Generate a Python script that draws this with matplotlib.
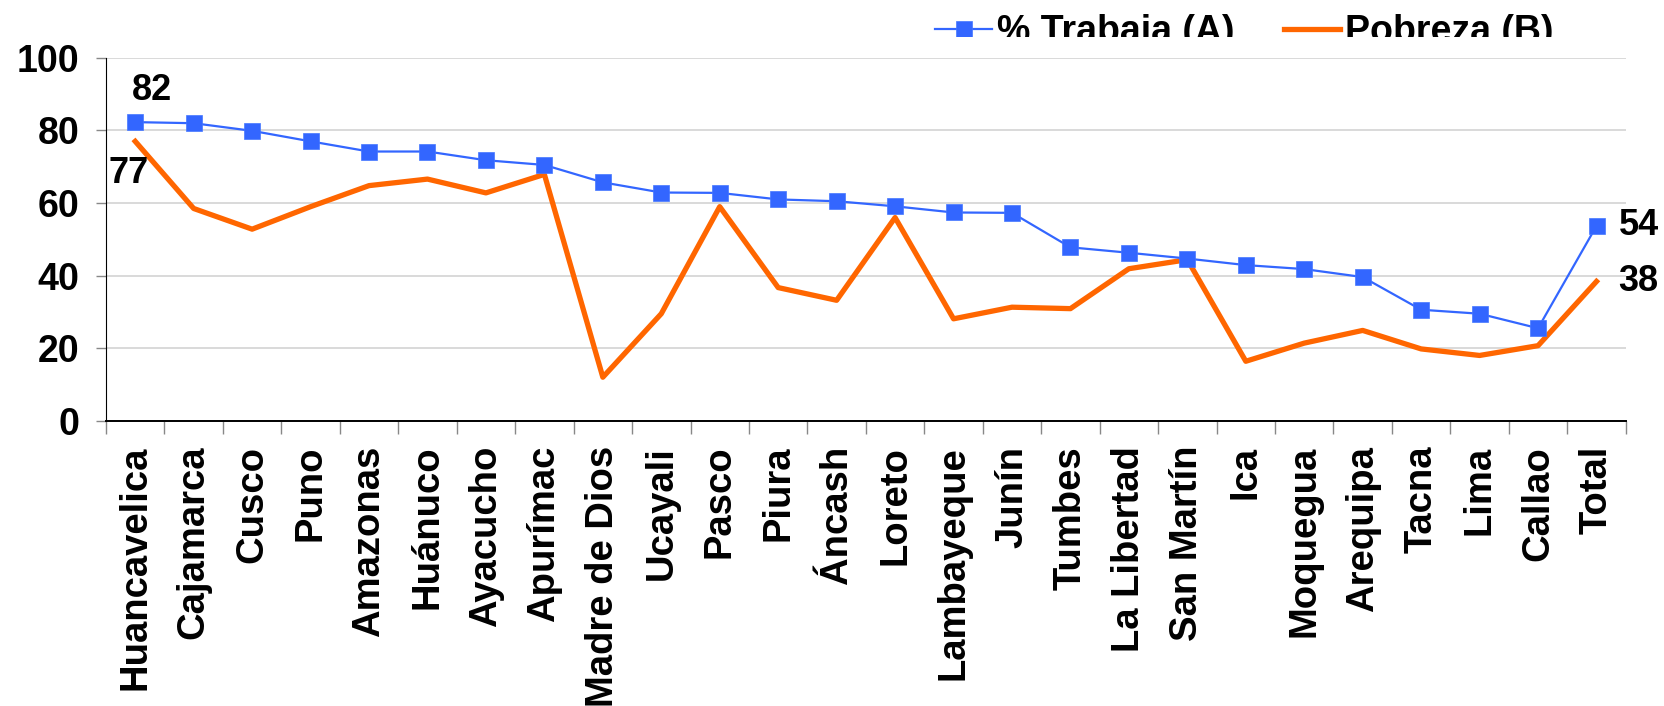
import matplotlib.pyplot as plt
import matplotlib.patches as mpatches
import numpy as np

# Data
regiones = ['Huancavelica', 'Cajamarca', 'Cusco', 'Puno', 'Amazonas', 'Huánuco',
            'Ayacucho', 'Apurímac', 'Madre de Dios', 'Ucayali', 'Pasco', 'Piura',
            'Áncash', 'Loreto', 'Lambayeque', 'Junín', 'Tumbes', 'La Libertad',
            'San Martín', 'Ica', 'Moquegua', 'Arequipa', 'Tacna', 'Lima', 'Callao', 'Total']

trabaja = [82.3, 82.0, 79.9, 77.0, 74.2, 74.2, 71.8, 70.5, 65.7, 62.9, 62.8, 61.0,
           60.5, 59.1, 57.4, 57.3, 47.8, 46.3, 44.7, 42.9, 41.8, 39.6, 30.6, 29.5, 25.5, 53.7]

pobreza = [77.0, 58.5, 52.8, 59.0, 64.8, 66.6, 62.8, 67.9, 12.0, 29.5, 59.0, 36.7,
           33.2, 56.0, 28.1, 31.3, 30.9, 41.9, 44.4, 16.4, 21.4, 24.9, 19.8, 18.0, 20.7, 38.4]

serie_labels = ['% Trabaja (A)', 'Pobreza (B)']
y_ticks = [0, 20, 40, 60, 80, 100]

blue = '#3366FF'
orange = '#FF6600'

plt.rcParams['font.family'] = ['Liberation Sans', 'DejaVu Sans']
plt.rcParams['font.weight'] = 'bold'

fig = plt.figure(figsize=(16.64, 7.06), dpi=100)
ax = fig.add_axes([0.0637, 0.404, 0.9133, 0.514])

x = np.arange(len(regiones))

ax.plot(x, pobreza, color=orange, linewidth=3.8, label=serie_labels[1], zorder=3)
ax.plot(x, trabaja, color=blue, linewidth=1.6, marker='s', markersize=12,
        markerfacecolor=blue, markeredgecolor='#4477FF', markeredgewidth=0.5,
        label=serie_labels[0], zorder=4)

# value labels on first and last points
ax.annotate(f"{trabaja[0]:.0f}", (x[0], trabaja[0]), xytext=(17, 32), textcoords='offset pixels',
            ha='center', va='center', fontsize=26, fontweight='bold')
ax.annotate(f"{pobreza[0]:.0f}", (x[0], pobreza[0]), xytext=(-7, -32), textcoords='offset pixels',
            ha='center', va='center', fontsize=26, fontweight='bold')
ax.annotate(f"{trabaja[-1]:.0f}", (x[-1], trabaja[-1]), xytext=(22, 0), textcoords='offset pixels',
            ha='left', va='center', fontsize=26, fontweight='bold', annotation_clip=False)
ax.annotate(f"{pobreza[-1]:.0f}", (x[-1], pobreza[-1]), xytext=(22, 0), textcoords='offset pixels',
            ha='left', va='center', fontsize=26, fontweight='bold', annotation_clip=False)

ax.set_xlim(-0.5, len(regiones) - 0.5)
ax.set_ylim(0, 100)
ax.set_yticks(y_ticks)
ax.set_yticklabels([str(v) for v in y_ticks], fontsize=27, fontweight='bold')
ax.set_xticks(x)
ax.set_xticklabels(regiones, rotation=90, fontsize=27.5, fontweight='bold')
ax.set_xticks(np.arange(-0.5, len(regiones)), minor=True)

ax.tick_params(axis='x', which='major', length=0, pad=18)
ax.tick_params(axis='x', which='minor', length=9, color='#888888', width=1, direction='out')
ax.tick_params(axis='y', length=7, color='#888888', width=1, pad=12)

ax.grid(axis='y', color='#D9D9D9', linewidth=1.4, zorder=0)
ax.set_axisbelow(True)
for side in ['top', 'right']:
    ax.spines[side].set_visible(False)
ax.spines['left'].set_linewidth(0.8)
ax.spines['bottom'].set_linewidth(1.4)

handles, labels = ax.get_legend_handles_labels()
leg = fig.legend(handles[::-1], labels[::-1], loc='center', bbox_to_anchor=(0.748, 0.955), ncol=2,
                 frameon=False, handlelength=1.5, handletextpad=0.15,
                 columnspacing=1.3, prop={'weight': 'bold', 'size': 27})

# the legend is cut off at the bottom in the original picture
fig.patches.append(mpatches.Rectangle((0.55, 0.925), 0.42, 0.023, transform=fig.transFigure,
                                      facecolor='white', edgecolor='none', zorder=10))

fig.savefig('out.png', dpi=100)
